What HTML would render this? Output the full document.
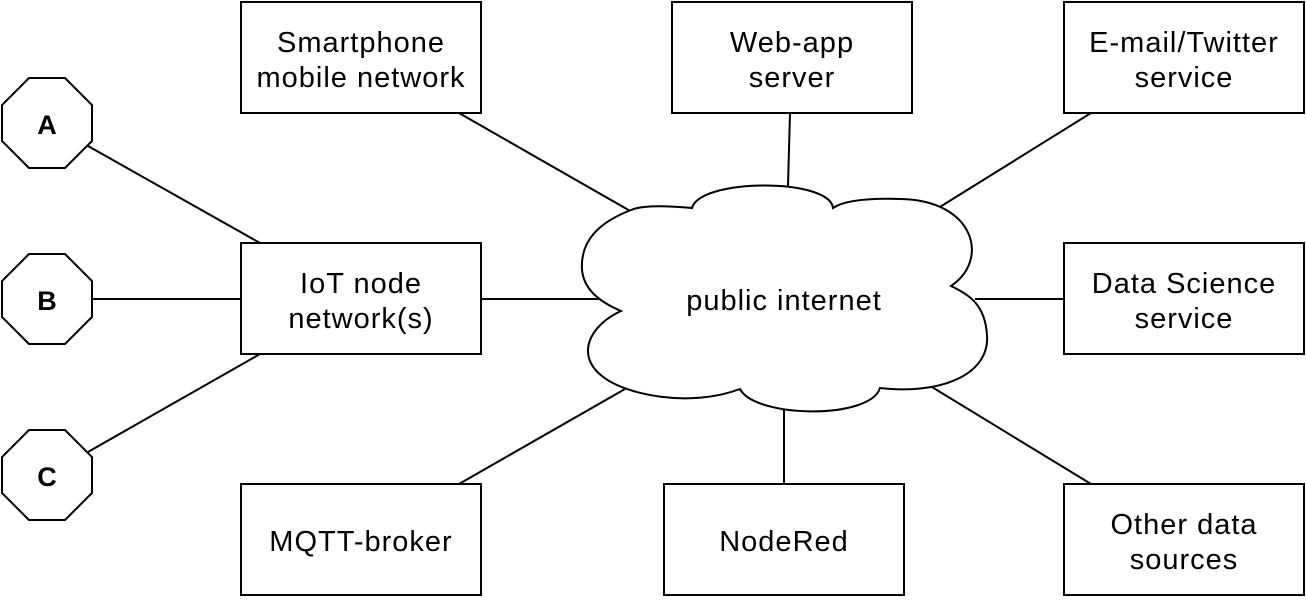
<!DOCTYPE html>
<html><head><meta charset="utf-8"><style>
html,body{margin:0;padding:0;background:#fff;}
svg text{font-family:"Liberation Sans",sans-serif;font-size:29px;letter-spacing:1px;fill:#000;}
</style></head><body>
<svg width="1306" height="598" viewBox="0 0 1306 598" xmlns="http://www.w3.org/2000/svg">
<g stroke="#000" stroke-width="2" fill="none">
<line x1="88" y1="146" x2="260" y2="243"/>
<line x1="92" y1="299" x2="241" y2="299"/>
<line x1="88" y1="452" x2="260" y2="354"/>
<line x1="481" y1="299" x2="600" y2="299"/>
<line x1="459" y1="113" x2="632" y2="212"/>
<line x1="790" y1="113" x2="788" y2="186"/>
<line x1="1091" y1="113" x2="935" y2="210"/>
<line x1="975" y1="299" x2="1064" y2="299"/>
<line x1="459" y1="484" x2="625" y2="389"/>
<line x1="784" y1="410" x2="784" y2="484"/>
<line x1="927" y1="384" x2="1091" y2="484"/>
</g>
<path d="M631,210 C600,222 580,240 582,270 C584,290 600,302 621,311 C590,325 575,355 602,376 C625,395 690,408 740,389 C755,418 870,420 880,388 C940,395 990,375 987,335 C985,305 970,295 951,286 C990,260 975,200 900,199 C870,198 845,200 833,208 C830,178 700,178 692,208 C660,205 640,206 631,210 Z" fill="#fff" stroke="#000" stroke-width="2"/>
<text x="784" y="310" text-anchor="middle">public internet</text>
<g fill="#fff" stroke="#000" stroke-width="2">
<rect x="241" y="2" width="240" height="111"/>
<rect x="672" y="2" width="240" height="111"/>
<rect x="1064" y="2" width="240" height="111"/>
<rect x="241" y="243" width="240" height="111"/>
<rect x="1064" y="243" width="240" height="111"/>
<rect x="241" y="484" width="240" height="111"/>
<rect x="664" y="484" width="240" height="111"/>
<rect x="1064" y="484" width="240" height="111"/>
<polygon points="29,78 65,78 92,105 92,141 65,168 29,168 2,141 2,105"/>
<polygon points="29,254 65,254 92,281 92,317 65,344 29,344 2,317 2,281"/>
<polygon points="29,430 65,430 92,457 92,493 65,520 29,520 2,493 2,457"/>
</g>
<g text-anchor="middle">
<text x="361" y="52">Smartphone</text><text x="361" y="87">mobile network</text>
<text x="792" y="52">Web-app</text><text x="792" y="87">server</text>
<text x="1184" y="52">E-mail/Twitter</text><text x="1184" y="87">service</text>
<text x="361" y="293">IoT node</text><text x="361" y="328">network(s)</text>
<text x="1184" y="293">Data Science</text><text x="1184" y="328">service</text>
<text x="361" y="551">MQTT-broker</text>
<text x="784" y="551">NodeRed</text>
<text x="1184" y="534">Other data</text><text x="1184" y="569">sources</text>
<text x="47" y="134" font-weight="bold" style="font-size:27px;letter-spacing:0">A</text>
<text x="47" y="310" font-weight="bold" style="font-size:27px;letter-spacing:0">B</text>
<text x="47" y="486" font-weight="bold" style="font-size:27px;letter-spacing:0">C</text>
</g>
</svg>
</body></html>
